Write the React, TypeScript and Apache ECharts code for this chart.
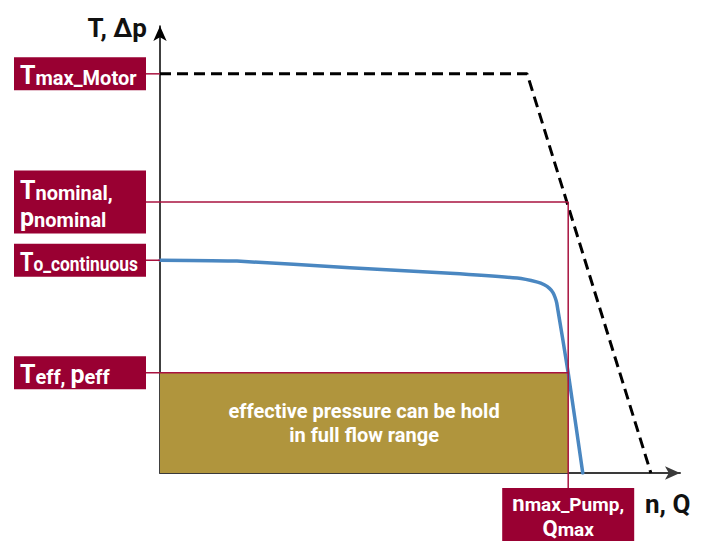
import React, { useEffect, useRef } from "react";
import * as echarts from "echarts";

// ---- data (arbitrary units, axis 0..100) ----
const X_MAX = 100;
const Y_MAX = 100;
const T_MAX_MOTOR = 89.3;
const T_NOMINAL = 60.6;
const T_CONT = 47.6;
const T_EFF = 22.4;
const N_MAX_PUMP = 78.5;

const motorX = [0, 70.6, 94.4];
const motorY = [T_MAX_MOTOR, T_MAX_MOTOR, 0];

const pumpX = [0, 14.8, 36.5, 55.8, 68.7, 72.6, 73.9, 74.9, 75.6, 76.0, 76.3, 78.5, 81.3];
const pumpY = [47.6, 47.4, 45.9, 44.7, 43.6, 42.7, 42.1, 41.3, 40.3, 39.2, 38.0, 22.4, 0];

const levelLabels = [
  { text: "{big|T}{small|max_Motor}", level: T_MAX_MOTOR, lines: 1, lineTo: 0 },
  { text: "{big|T}{small|nominal,}\n{big|p}{small|nominal}", level: T_NOMINAL, lines: 2, lineTo: N_MAX_PUMP },
  { text: "{big|T}{small|o_continuous}", level: T_CONT, lines: 1, lineTo: 0 },
  { text: "{big|T}{small|eff, }{big|p}{small|eff}", level: T_EFF, lines: 1, lineTo: N_MAX_PUMP },
];
const pumpLabel = "{big|n}{small|max_Pump,}\n{big|Q}{small|max}";
const areaText = "effective pressure can be hold\nin full flow range";
const yName = "T, Δp";
const xName = "n, Q";

const DARK_RED = "#990032";
const LINE_RED = "#A8123F";
const GOLD = "#B0953D";
const BLUE = "#4A87C1";
const FONT = "Roboto";

export default function App() {
  const ref = useRef<HTMLDivElement>(null);

  useEffect(() => {
    document.body.style.margin = "0";
    const chart = echarts.init(ref.current as HTMLDivElement, null, { renderer: "svg" });
    const option: any = {
      animation: false,
      grid: { left: 160, right: 21, top: 26, bottom: 68 },
      xAxis: {
        type: "value",
        min: 0,
        max: X_MAX,
        axisLine: {
          show: true,
          symbol: ["none", "arrow"],
          symbolSize: [10, 15],
          lineStyle: { color: "#3a3a3a", width: 2 },
        },
        axisTick: { show: false },
        axisLabel: { show: false },
        splitLine: { show: false },
      },
      yAxis: {
        type: "value",
        min: 0,
        max: Y_MAX,
        axisLine: {
          show: true,
          symbol: ["none", "arrow"],
          symbolSize: [10, 15],
          lineStyle: { color: "#000", width: 1.5 },
        },
        axisTick: { show: false },
        axisLabel: { show: false },
        splitLine: { show: false },
      },
      series: [
        {
          type: "line",
          data: pumpX.map((x, i) => [x, pumpY[i]]),
          showSymbol: false,
          symbol: "none",
          smooth: 0.15,
          lineStyle: { color: BLUE, width: 3.5, cap: "round", join: "round" },
          z: 3,
          markArea: {
            silent: true,
            itemStyle: { color: GOLD },
            label: {
              show: true,
              position: "inside",
              color: "#fff",
              fontFamily: FONT,
              fontWeight: "bold",
              fontSize: 20,
              lineHeight: 24,
              align: "center",
            },
            data: [[{ coord: [0, 0], name: areaText }, { coord: [N_MAX_PUMP, T_EFF] }]],
          },
        },
        {
          type: "line",
          data: motorX.map((x, i) => [x, motorY[i]]),
          showSymbol: false,
          symbol: "none",
          lineStyle: { color: "#000", width: 3, type: [11, 6] },
          z: 4,
        },
      ],
    };
    chart.setOption(option);

    const px = (x: number, y: number) => chart.convertToPixel({ gridIndex: 0 }, [x, y]) as number[];
    const graphics: any[] = [];
    const [ox, oy] = px(0, 0);
    const [nx] = px(N_MAX_PUMP, 0);

    const rich = {
      big: { fontSize: 25, fontWeight: "bold", fontFamily: FONT, fill: "#fff", verticalAlign: "bottom", lineHeight: 27 },
      small: { fontSize: 20, fontWeight: "bold", fontFamily: FONT, fill: "#fff", verticalAlign: "bottom", lineHeight: 21 },
    };
    const maxTextW = 118;

    levelLabels.forEach((l) => {
      const [, ly] = px(0, l.level);
      const h = l.lines === 2 ? 63 : 33;
      const bx = ox - 146;
      graphics.push({
        type: "rect",
        shape: { x: bx, y: ly - h / 2, width: 132, height: h },
        style: { fill: DARK_RED },
        z: 10,
      });
      const probe = new (echarts.graphic as any).Text({
        style: { text: l.text, rich, align: "left", verticalAlign: "middle" },
      });
      const w = probe.getBoundingRect().width;
      const sx = w > maxTextW ? maxTextW / w : 1;
      graphics.push({
        type: "text",
        x: bx + 6,
        y: ly + 1,
        scaleX: sx,
        style: {
          x: 0,
          y: 0,
          text: l.text,
          rich,
          align: "left",
          verticalAlign: "middle",
        },
        z: 11,
      });
      const endX = l.lineTo > 0 ? px(l.lineTo, 0)[0] : ox;
      graphics.push({
        type: "line",
        shape: { x1: ox - 14, y1: ly, x2: endX, y2: ly },
        style: { stroke: LINE_RED, lineWidth: 1.5 },
        z: 9,
      });
    });

    // vertical nmax line
    const [, ny] = px(N_MAX_PUMP, T_NOMINAL);
    graphics.push({
      type: "line",
      shape: { x1: nx, y1: ny, x2: nx, y2: oy + 16 },
      style: { stroke: LINE_RED, lineWidth: 1.5 },
      z: 9,
    });
    graphics.push({
      type: "rect",
      shape: { x: nx - 66, y: oy + 15, width: 132, height: 53 },
      style: { fill: DARK_RED },
      z: 10,
    });
    graphics.push({
      type: "text",
      style: {
        x: nx,
        y: oy + 41,
        text: pumpLabel,
        rich: {
          big: { ...rich.big, fontSize: 22, lineHeight: 25 },
          small: { ...rich.small, fontSize: 19, lineHeight: 20 },
        },
        align: "center",
        verticalAlign: "middle",
      },
      z: 11,
    });

    // axis names
    graphics.push({
      type: "text",
      style: {
        x: ox - 13,
        y: 28,
        text: yName,
        fill: "#111",
        font: `bold 26px ${FONT}`,
        align: "right",
        verticalAlign: "middle",
      },
    });
    graphics.push({
      type: "text",
      style: {
        x: 645,
        y: oy + 31,
        text: xName,
        fill: "#111",
        font: `bold 26px ${FONT}`,
        align: "left",
        verticalAlign: "middle",
      },
    });

    chart.setOption({ graphic: graphics });
    return () => chart.dispose();
  }, []);

  return <div ref={ref} style={{ width: 701, height: 541 }} />;
}
